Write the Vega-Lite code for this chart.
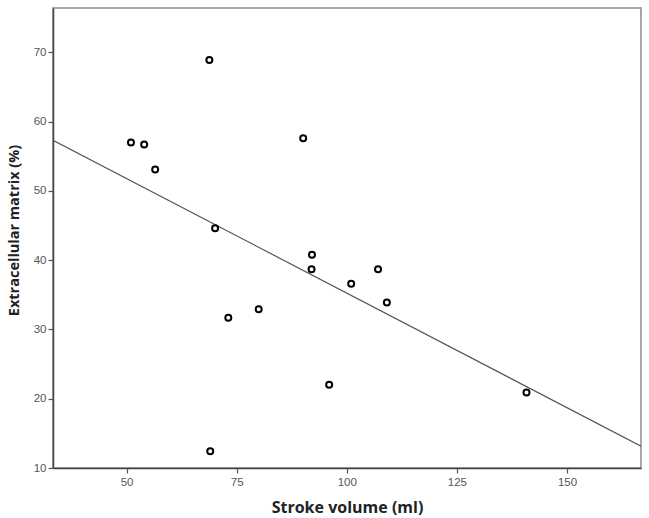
{
  "$schema": "https://vega.github.io/schema/vega-lite/v6.json",
  "width": 588,
  "height": 460,
  "autosize": "none",
  "padding": {"left": 53, "top": 8, "right": 8, "bottom": 50},
  "background": "white",
  "config": {
    "view": {"stroke": "#8a8a8a", "strokeWidth": 1.5},
    "axis": {
      "grid": false,
      "domainColor": "#444444",
      "domainWidth": 1.5,
      "tickColor": "#555555",
      "tickSize": 5,
      "tickWidth": 1.2,
      "labelFont": "Liberation Sans",
      "labelFontSize": 11.5,
      "labelColor": "#555555",
      "titleFont": "Open Sans",
      "titleFontSize": 14,
      "titleFontWeight": "bold",
      "titleColor": "#222222"
    }
  },
  "datasets": {
    "points": [
      {"stroke_volume": 51.0, "ecm": 57.0},
      {"stroke_volume": 54.0, "ecm": 56.7},
      {"stroke_volume": 56.5, "ecm": 53.1},
      {"stroke_volume": 68.8, "ecm": 68.9},
      {"stroke_volume": 70.1, "ecm": 44.6},
      {"stroke_volume": 90.1, "ecm": 57.6},
      {"stroke_volume": 92.1, "ecm": 40.8},
      {"stroke_volume": 92.0, "ecm": 38.7},
      {"stroke_volume": 107.1, "ecm": 38.7},
      {"stroke_volume": 101.0, "ecm": 36.6},
      {"stroke_volume": 109.1, "ecm": 33.9},
      {"stroke_volume": 80.0, "ecm": 32.9},
      {"stroke_volume": 73.1, "ecm": 31.7},
      {"stroke_volume": 96.0, "ecm": 22.0},
      {"stroke_volume": 69.0, "ecm": 12.4},
      {"stroke_volume": 140.8, "ecm": 20.9}
    ],
    "fit": [
      {"stroke_volume": 33.3, "ecm": 57.3},
      {"stroke_volume": 166.8, "ecm": 13.15}
    ]
  },
  "layer": [
    {
      "data": {"name": "fit"},
      "mark": {"type": "line", "color": "#555555", "strokeWidth": 1.2, "clip": true},
      "encoding": {
        "x": {
          "field": "stroke_volume",
          "type": "quantitative",
          "scale": {"domain": [33.3, 166.8], "nice": false, "zero": false},
          "axis": {
            "title": "Stroke volume (ml)",
            "values": [50, 75, 100, 125, 150],
            "labelPadding": 3,
            "titleFontSize": 16,
            "titleBaseline": "alphabetic",
            "titleY": 44
          }
        },
        "y": {
          "field": "ecm",
          "type": "quantitative",
          "scale": {"domain": [10, 76.4], "nice": false, "zero": false},
          "axis": {
            "title": "Extracellular matrix (%)",
            "values": [10, 20, 30, 40, 50, 60, 70],
            "labelPadding": 2,
            "titleFontSize": 14.5,
            "titleBaseline": "middle",
            "titleX": -39,
            "titleY": 222,
            "titleAlign": "center",
            "titleAngle": -90
          }
        }
      }
    },
    {
      "data": {"name": "points"},
      "mark": {"type": "point", "shape": "circle", "filled": false, "stroke": "#000000", "strokeWidth": 2, "size": 36, "opacity": 1},
      "encoding": {
        "x": {"field": "stroke_volume", "type": "quantitative"},
        "y": {"field": "ecm", "type": "quantitative"}
      }
    }
  ]
}
